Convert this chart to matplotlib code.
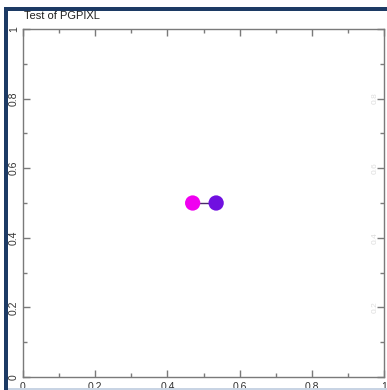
import matplotlib
matplotlib.use("Agg")
import matplotlib.pyplot as plt
import matplotlib.patches as patches
from matplotlib.ticker import MultipleLocator

# two pixels joined by a line
px_x = [0.47, 0.535]
px_y = [0.5, 0.5]
px_colors = ["#f000f0", "#7010e0"]

title = "Test of PGPIXL"
tick_vals = [0, 0.2, 0.4, 0.6, 0.8, 1]
tick_text = ["0", "0.2", "0.4", "0.6", "0.8", "1"]

W, H = 387, 390
fig = plt.figure(figsize=(W / 100, H / 100), dpi=100)
fig.patch.set_facecolor("white")

# window frame: dark strip on left and top, thin light line at the bottom
navy = "#1c3a64"
fig.add_artist(patches.Rectangle((4 / W, 0), 4 / W, 1 - 7 / H,
                                 transform=fig.transFigure, color=navy, lw=0))
fig.add_artist(patches.Rectangle((4 / W, 1 - 11 / H), 1 - 4 / W, 4 / H,
                                 transform=fig.transFigure, color=navy, lw=0))
fig.add_artist(patches.Rectangle((8 / W, 0), 1, 2 / H,
                                 transform=fig.transFigure, color="#c8d4e4", lw=0))

left, right, top, bottom = 23, 384, 29, 377
ax = fig.add_axes([left / W, 1 - bottom / H, (right - left) / W, (bottom - top) / H])
ax.set_xlim(0, 1)
ax.set_ylim(0, 1)

ax.plot(px_x, px_y, color="#4a2a6a", lw=1, zorder=2)
ax.scatter(px_x, px_y, s=11 ** 2, c=px_colors, edgecolors="none", zorder=3)

for s in ax.spines.values():
    s.set_color("#7a7a7a")
    s.set_linewidth(1)

ax.set_xticks(tick_vals)
ax.set_yticks(tick_vals)
ax.set_xticklabels(tick_text)
ax.set_yticklabels(tick_text, rotation=90, va="center")
ax.xaxis.set_minor_locator(MultipleLocator(0.1))
ax.yaxis.set_minor_locator(MultipleLocator(0.1))
ax.tick_params(which="both", direction="in", top=True, right=True,
               color="#7a7a7a", labelsize=7.5, labelcolor="#333333",
               labelfontfamily="Liberation Sans")
ax.tick_params(which="major", length=5, width=1)
ax.tick_params(which="minor", length=3, width=1)
ax.tick_params(axis="x", pad=3.5)
ax.tick_params(axis="y", pad=3)

# faint mirrored labels on the right edge
for v, t in zip(tick_vals[1:-1], tick_text[1:-1]):
    ax.text(0.975, v, t, rotation=90, ha="center", va="center", fontsize=6,
            color="#dddddd", family="Liberation Sans")

fig.text(left / W + 0.003, 1 - 19 / H, title, fontsize=8, color="#222222",
         family="Liberation Sans", va="baseline")

fig.savefig("out.png", dpi=100)
